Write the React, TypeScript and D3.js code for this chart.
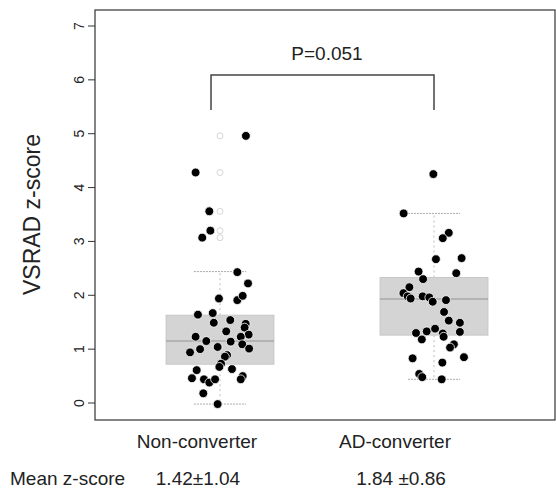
import * as d3 from 'd3';

// group labels and summary text
const groups = ['Non-converter', 'AD-converter'];
const meanLabels = ['1.42\u00B11.04', '1.84 \u00B10.86'];
const yTicks = [0, 1, 2, 3, 4, 5, 6, 7];
const pLabel = 'P=0.051';

// box stats: [low whisker, Q1, median, Q3, high whisker]
const ncBox = [-0.02, 0.72, 1.15, 1.63, 2.44];
const adBox = [0.44, 1.26, 1.93, 2.33, 3.52];

// outliers drawn by the boxplot itself (faint circles)
const ncOutliers = [3.07, 3.2, 3.56, 4.28, 4.96];
const adOutliers = [4.25];

// individual z-scores with their horizontal jitter (group units)
const ncValues = [
  4.96, 4.28, 3.56, 3.2, 3.07, 2.43, 2.22, 1.94, 1.91, 1.99, 1.64, 1.67, 1.49, 1.54,
  1.47, 1.4, 1.33, 1.27, 1.23, 1.23, 1.15, 1.14, 1.09, 0.94, 1.0, 1.04, 1.01, 0.89,
  0.86, 0.73, 0.67, 0.61, 0.63, 0.46, 0.44, 0.38, 0.44, 0.5, 0.44, 0.18, -0.02,
];
const ncJitter = [
  0.121, -0.114, -0.05, -0.045, -0.083, 0.081, 0.131, -0.005, 0.081, 0.106, -0.103,
  -0.034, -0.029, 0.048, 0.12, 0.115, 0.029, 0.134, -0.114, 0.097, -0.064, 0.05, 0.104,
  -0.14, -0.093, -0.011, 0.136, 0.033, 0.023, 0.005, -0.003, -0.109, 0.056, -0.131,
  -0.075, -0.05, -0.023, 0.106, 0.097, -0.078, -0.011,
];
const adValues = [
  4.25, 3.52, 3.16, 3.06, 2.67, 2.69, 2.44, 2.41, 2.3, 2.15, 2.04, 1.98, 1.94, 1.98,
  1.96, 1.88, 1.91, 1.69, 1.53, 1.49, 1.3, 1.33, 1.38, 1.29, 1.23, 1.32, 1.18, 1.09,
  1.03, 0.83, 0.75, 0.85, 0.54, 0.48, 0.44,
];
const adJitter = [
  -0.003, -0.142, 0.069, 0.041, 0.009, 0.129, -0.072, 0.104, -0.051, -0.115, -0.143,
  -0.123, -0.109, -0.053, -0.022, -0.006, 0.056, 0.047, 0.069, 0.121, -0.084, -0.034,
  0.005, 0.041, 0.045, 0.121, -0.057, 0.093, 0.075, -0.1, 0.039, 0.14, -0.069, -0.055,
  0.036,
];

const W = 556;
const H = 488;
const frame = { left: 95, right: 555, top: 10, bottom: 420 };
const font = "'Liberation Sans', Arial, sans-serif";

export default function App() {
  const x = d3.scaleLinear().domain([1, 2]).range([220, 434]);
  const y = d3.scaleLinear().domain([0, 7]).range([403, 26]);
  const boxHalf = 0.252;
  const capHalf = 0.122;

  const series = [
    { pos: 1, box: ncBox, out: ncOutliers, vals: ncValues, jit: ncJitter },
    { pos: 2, box: adBox, out: adOutliers, vals: adValues, jit: adJitter },
  ];

  const labelX = [197, 395];
  const meanX = [198, 401];

  return (
    <div style={{ position: 'absolute', left: 0, top: 0 }}>
      <svg width={W} height={H} style={{ display: 'block', background: '#fff' }} fontFamily={font}>
        {series.map((s, i) => {
          const [lo, q1, med, q3, hi] = s.box;
          return (
            <g key={i}>
              {/* whiskers */}
              <line x1={x(s.pos)} x2={x(s.pos)} y1={y(q3)} y2={y(hi)} stroke="#bbb" strokeDasharray="2,3" />
              <line x1={x(s.pos)} x2={x(s.pos)} y1={y(q1)} y2={y(lo)} stroke="#bbb" strokeDasharray="2,3" />
              <line x1={x(s.pos - capHalf)} x2={x(s.pos + capHalf)} y1={y(hi)} y2={y(hi)} stroke="#aaa" strokeDasharray="2,1" />
              <line x1={x(s.pos - capHalf)} x2={x(s.pos + capHalf)} y1={y(lo)} y2={y(lo)} stroke="#aaa" strokeDasharray="2,1" />
              {/* box */}
              <rect
                x={x(s.pos - boxHalf)}
                y={y(q3)}
                width={x(s.pos + boxHalf) - x(s.pos - boxHalf)}
                height={y(q1) - y(q3)}
                fill="#d4d4d4"
                stroke="#c8c8c8"
              />
              <line x1={x(s.pos - boxHalf)} x2={x(s.pos + boxHalf)} y1={y(med)} y2={y(med)} stroke="#a8a8a8" strokeWidth={1.5} />
              {/* outlier symbols */}
              {s.out.map((v, j) => (
                <circle key={j} cx={x(s.pos)} cy={y(v)} r={3} fill="none" stroke="#ccc" strokeWidth={0.8} />
              ))}
              {/* points */}
              {s.vals.map((v, j) => (
                <circle key={'p' + j} cx={x(s.pos + s.jit[j])} cy={y(v)} r={4.4} fill="#000" stroke="#fff" strokeWidth={0.8} />
              ))}
            </g>
          );
        })}

        {/* frame */}
        <rect
          x={frame.left}
          y={frame.top}
          width={frame.right - frame.left}
          height={frame.bottom - frame.top}
          fill="none"
          stroke="#333"
          strokeWidth={1.2}
        />

        {/* y axis */}
        {yTicks.map(t => (
          <g key={t}>
            <line x1={frame.left - 7} x2={frame.left} y1={y(t)} y2={y(t)} stroke="#333" />
            <text
              transform={`translate(84,${y(t)}) rotate(-90)`}
              textAnchor="middle"
              fontSize={14}
              fill="#222"
            >
              {t}
            </text>
          </g>
        ))}
        <text
          transform={`translate(40,${y(3.5)}) rotate(-90)`}
          textAnchor="middle"
          fontSize={23}
          fill="#222"
        >
          VSRAD z-score
        </text>

        {/* significance bracket */}
        <path
          d={`M${x(0.958)},${y(5.44)}V${y(6.09)}H${x(2)}V${y(5.44)}`}
          fill="none"
          stroke="#444"
          strokeWidth={1.5}
        />
        <text x={x(1.5)} y={y(6.37)} textAnchor="middle" fontSize={19} fill="#222">
          {pLabel}
        </text>

        {/* category labels */}
        {groups.map((g, i) => (
          <text key={g} x={labelX[i]} y={448} textAnchor="middle" fontSize={19} fill="#222">
            {g}
          </text>
        ))}
        <text x={10} y={485} fontSize={19} fill="#222">
          Mean z-score
        </text>
        {meanLabels.map((m, i) => (
          <text key={m} x={meanX[i]} y={485} textAnchor="middle" fontSize={19} fill="#222">
            {m}
          </text>
        ))}
      </svg>
    </div>
  );
}
